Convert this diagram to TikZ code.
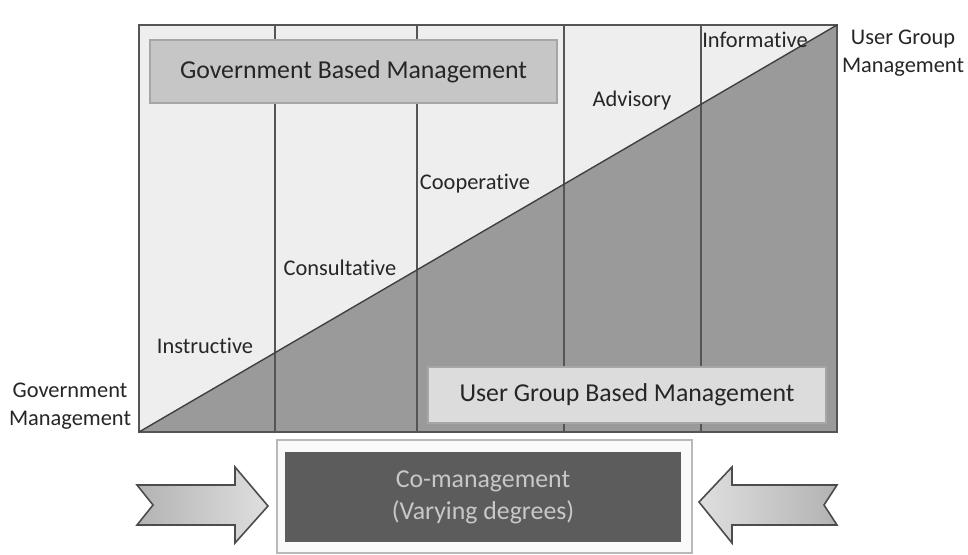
\documentclass[tikz,border=0pt]{standalone}
\usepackage{fontspec}
\setmainfont{Carlito}[Ligatures=NoCommon,RawFeature={-liga}]
\usetikzlibrary{positioning}
\definecolor{upperfill}{HTML}{EEEEEE}
\definecolor{lowerfill}{HTML}{9A9A9A}
\definecolor{framecol}{HTML}{555555}
\definecolor{govfill}{HTML}{C6C6C6}
\definecolor{userfill}{HTML}{DCDCDC}
\definecolor{cofill}{HTML}{5C5C5C}
\definecolor{cotext}{HTML}{C8C8C8}
\tikzset{
  lbl/.style={font=\fontsize{11.2}{14}\selectfont, text=black!85, inner sep=0pt, align=center},
  bigbox/.style={font=\fontsize{12.9}{15.5}\selectfont, text=black!85, draw=gray!70, line width=0.8pt},
  frameline/.style={draw=framecol, line width=0.8pt},
  blockarrow/.style={draw=black!70, line width=0.8pt, line join=miter}
}
\begin{document}
\begin{tikzpicture}[x=0.5pt,y=-0.5pt]
  \useasboundingbox (0,0) rectangle (968,555);
  \coordinate (gm) at (139,432);
  \coordinate (ugm) at (837,25);
  \fill[upperfill] (139,25) rectangle (837,432);
  \fill[lowerfill] (gm) -- (ugm) -- (837,432) -- cycle;
  \foreach \x in {275,417,564,701}
    \draw[frameline] (\x,25) -- (\x,432);
  \draw[frameline] (139,25) rectangle (837,432);
  \draw[black!75, line width=0.7pt] (gm) -- (ugm);

  \node[bigbox, fill=govfill, minimum width=203.5pt, minimum height=31.5pt] (gov) at (353.5,71.5) {Government Based Management};
  \node[bigbox, fill=userfill, minimum width=199pt, minimum height=28pt] (user) at (627,395) {User Group Based Management};

  \node[lbl] (instr) at (205,346) {Instructive};
  \node[lbl] (consult) at (340,268) {Consultative};
  \node[lbl] (coop) at (475,184) {Cooperative};
  \node[lbl] (advis) at (632,101) {Advisory};
  \node[lbl] (inform) at (755,40) {Informative};
  \node[lbl] (govmgmt) at (70,406) {Government\\Management};
  \node[lbl] (usermgmt) at (903,53) {User Group\\Management};

  \draw[fill=gray!4, draw=gray!55, line width=0.8pt] (277,440) rectangle (692,553);
  \node[fill=cofill, text=cotext, font=\fontsize{12.9}{16}\selectfont, align=center,
        minimum width=198pt, minimum height=45pt] (comgmt) at (483,497) {Co-management\\(Varying degrees)};

  \shade[blockarrow, left color=gray!60, right color=gray!25]
    (137,485) -- (235,485) -- (235,467) -- (268,506) -- (235,543) -- (235,525)
    -- (137,525) -- (153,505) -- cycle;
  \shade[blockarrow, left color=gray!25, right color=gray!60]
    (837,485) -- (732,485) -- (732,467) -- (699,502) -- (732,543) -- (732,525)
    -- (837,525) -- (824,505) -- cycle;
\end{tikzpicture}
\end{document}
